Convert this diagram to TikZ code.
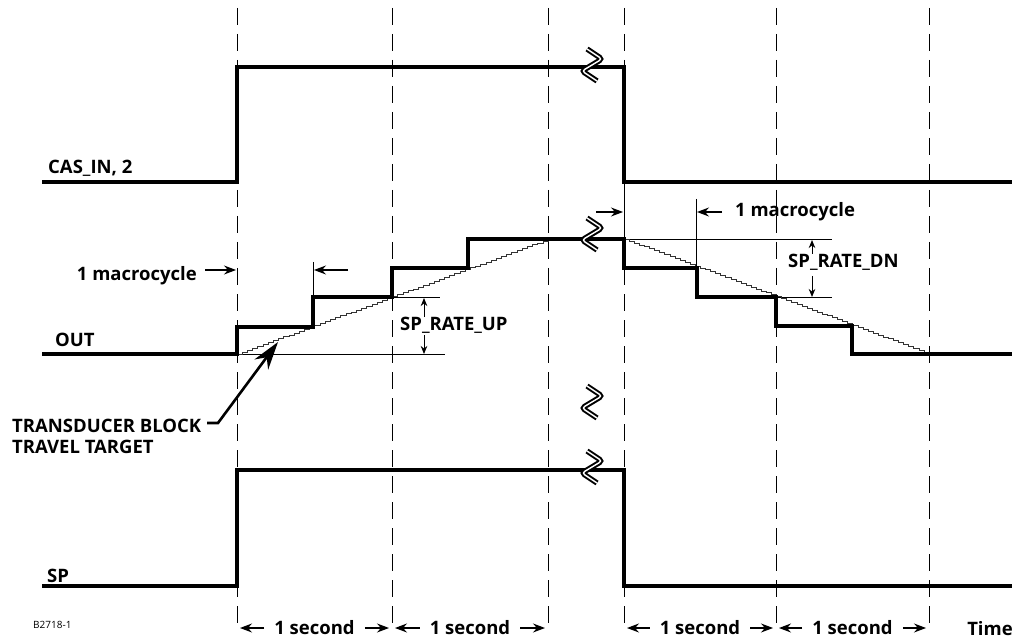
\documentclass[tikz,border=0pt]{standalone}
\usepackage{fontspec}
\setmainfont{Open Sans}
\usetikzlibrary{arrows.meta,calc}

\begin{document}
\begin{tikzpicture}[
  x=1pt,y=-1pt,
  font=\bfseries\fontsize{18.5}{22}\selectfont,
  >={Stealth[length=12pt,width=9pt,inset=4pt]},
  sig/.style={line width=3.3pt},
  vline/.style={line width=0.8pt,dash pattern=on 17pt off 9pt},
  guide/.style={line width=0.7pt},
  ramp/.style={line width=0.5pt,black!80},
  dim/.style={line width=1.1pt,->},
  vdim/.style={line width=1pt,-{Stealth[length=8pt,width=6.5pt,inset=2.5pt]}},
  lead/.style={line width=2.6pt,-{Stealth[length=28pt,width=17pt,inset=9pt]}},
  tag/.style={anchor=base west,inner sep=0pt},
  brk/.pic={\draw[line width=2pt,double=white,double distance=1.4pt,rounded corners=3pt]
    (-5,-16) -- (10,-6) -- (-10,6) -- (5,16);}
]
\useasboundingbox[fill=white] (0,0) rectangle (1015,639);

% time grid
\foreach \x/\n in {237/a,392/b,548/c,624/d,776/e,929/f}{
  \coordinate (top\n) at (\x,8);
  \coordinate (foot\n) at (\x,628);
  \draw[vline] (top\n) -- (foot\n);
}

% guide lines
\draw[guide] (237,354) -- (445,354);
\draw[guide] (392,297) -- (440,297);
\draw[guide] (313,262) -- (313,297);
\draw[guide] (624,182) -- (624,239);
\draw[guide] (624,239) -- (832,239);
\draw[guide] (776,297) -- (832,297);
\draw[guide] (696,199) -- (696,268);

% travel target ramps
\draw[ramp] (237,354) \foreach \i in {1,...,60}{ -- ++(5.183,0) -- ++(0,-1.917)};
\draw[ramp] (624,239) \foreach \i in {1,...,60}{ -- ++(5.083,0) -- ++(0,1.917)};

% signals
\draw[sig] (42,182) -- (237,182) -- (237,67) -- (624,67) -- (624,182) -- (1012,182);
\draw[sig] (42,354) -- (237,354) |- (313,327) |- (392,297) |- (468,268) |- (624,239)
  |- (697,268) |- (776,297) |- (852,326) |- (1012,354);
\draw[sig] (42,586) -- (237,586) -- (237,470) -- (624,470) -- (624,586) -- (1012,586);

\pic (brkA) at (592,65) {brk};
\pic (brkB) at (592,234) {brk};
\pic (brkC) at (592,402) {brk};
\pic (brkD) at (592,467) {brk};

% signal names
\node[tag] (casin) at (48,174) {CAS\_IN, 2};
\node[tag] (out) at (55,346) {OUT};
\node[tag] (sp) at (47,582) {SP};

% macrocycle marks
\node[tag,anchor=base east] (mcl) at (197,280) {1 macrocycle};
\coordinate (mcA) at (205,270); \coordinate (mcB) at (236,270);
\coordinate (mcC) at (348,270); \coordinate (mcD) at (314,270);
\draw[dim] (mcA) -- (mcB);
\draw[dim] (mcC) -- (mcD);

\node[tag] (mcr) at (735,217) {1 macrocycle};
\coordinate (mcE) at (596,212); \coordinate (mcF) at (623,212);
\coordinate (mcG) at (722,212); \coordinate (mcH) at (697,212);
\draw[dim] (mcE) -- (mcF);
\draw[dim] (mcG) -- (mcH);

% rate limits
\node[tag] (rateup) at (400,330) {SP\_RATE\_UP};
\coordinate (ruA) at (424,317); \coordinate (ruB) at (424,298);
\coordinate (ruC) at (424,335); \coordinate (ruD) at (424,354);
\draw[vdim] (ruA) -- (ruB);
\draw[vdim] (ruC) -- (ruD);

\node[tag] (ratedn) at (788,268) {SP\_RATE\_DN};
\coordinate (rdA) at (812,254); \coordinate (rdB) at (812,240);
\coordinate (rdC) at (812,276); \coordinate (rdD) at (812,297);
\draw[vdim] (rdA) -- (rdB);
\draw[vdim] (rdC) -- (rdD);

% transducer target callout
\node[tag] (ttb1) at (12,432) {TRANSDUCER BLOCK};
\node[tag] (ttb2) at (12,453) {TRAVEL TARGET};
\coordinate (ldA) at (207,423); \coordinate (ldB) at (218,423);
\coordinate (ttgt) at (278,342);
\draw[lead] (ldA) -- (ldB) -- (ttgt);

% seconds
\foreach \l/\r/\n in {a/b/1,b/c/2,d/e/3,e/f/4}{
  \node[inner xsep=10pt,inner ysep=0pt] (sec\n) at ($(foot\l)!0.5!(foot\r)$) {1 second};
  \draw[dim] (sec\n.west) -- ([xshift=3pt]foot\l);
  \draw[dim] (sec\n.east) -- ([xshift=-3pt]foot\r);
}
\node[inner sep=0pt] (time) at (990,629) {Time};
\node[tag,font=\fontsize{10}{11}\selectfont] (fig) at (33,628) {B2718-1};
\end{tikzpicture}
\end{document}
